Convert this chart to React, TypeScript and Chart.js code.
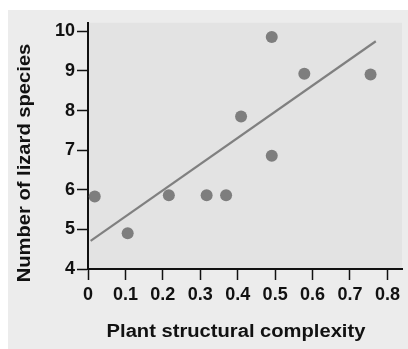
import React, { useEffect, useRef } from "react";
import { Chart, registerables } from "chart.js";

Chart.register(...registerables);

const complexity = [0.018, 0.106, 0.216, 0.317, 0.369, 0.409, 0.491, 0.491, 0.578, 0.755];
const species = [5.83, 4.9, 5.86, 5.86, 5.86, 7.85, 9.86, 6.86, 8.93, 8.91];
const fitX = [0.007, 0.769];
const fitY = [4.71, 9.75];
const xTicks = [0, 0.1, 0.2, 0.3, 0.4, 0.5, 0.6, 0.7, 0.8];
const yTicks = [4, 5, 6, 7, 8, 9, 10];
const xTitle = "Plant structural complexity";
const yTitle = "Number of lizard species";

const FONT = "'Liberation Sans', Arial, Helvetica, sans-serif";

const bgPlugin = {
  id: "bg",
  beforeDraw(chart: any) {
    const { ctx, chartArea, width, height } = chart;
    ctx.save();
    ctx.fillStyle = "#ececec";
    ctx.fillRect(0, 0, width, height);
    ctx.fillStyle = "#e3e3e3";
    ctx.fillRect(chartArea.left, chartArea.top, chartArea.right - chartArea.left, chartArea.bottom - chartArea.top);
    ctx.restore();
  },
  afterDraw(chart: any) {
    const { ctx } = chart;
    ctx.save();
    ctx.fillStyle = "#111";
    ctx.font = `bold 18px ${FONT}`;
    ctx.textAlign = "center";
    ctx.textBaseline = "middle";
    ctx.save();
    ctx.translate(228, 322);
    ctx.scale(1.12, 1);
    ctx.fillText(xTitle, 0, 0);
    ctx.restore();
    ctx.translate(17, 153);
    ctx.rotate(-Math.PI / 2);
    ctx.scale(1.12, 1);
    ctx.fillText(yTitle, 0, 0);
    ctx.restore();
  },
};

export default function App() {
  const ref = useRef<HTMLCanvasElement>(null);
  useEffect(() => {
    if (!ref.current) return;
    const chart = new Chart(ref.current, {
      type: "scatter",
      data: {
        datasets: [
          {
            type: "line",
            data: fitX.map((x, i) => ({ x, y: fitY[i] })),
            borderColor: "#808080",
            borderWidth: 2.2,
            pointRadius: 0,
            fill: false,
          } as any,
          {
            data: complexity.map((x, i) => ({ x, y: species[i] })),
            backgroundColor: "#7e7e7e",
            borderWidth: 0,
            pointRadius: 6,
          },
        ],
      },
      plugins: [bgPlugin],
      options: {
        animation: false,
        responsive: false,
        devicePixelRatio: 1,
        layout: { padding: 0 },
        plugins: { legend: { display: false }, tooltip: { enabled: false } },
        scales: {
          x: {
            type: "linear",
            min: 0,
            max: 0.839,
            afterBuildTicks: (s: any) => {
              s.ticks = xTicks.map((v) => ({ value: v }));
            },
            afterFit: (s: any) => {
              s.height = 80;
            },
            ticks: {
              callback: (v: any) => String(Math.round(Number(v) * 10) / 10),
              color: "#111",
              font: { family: FONT, size: 18, weight: "bold" },
              padding: 4,
              maxRotation: 0,
              autoSkip: false,
            },
            grid: { drawOnChartArea: false, tickLength: 11, color: "#111", tickWidth: 1.5 },
            border: { color: "#111", width: 2 },
          },
          y: {
            type: "linear",
            min: 4,
            max: 10.216,
            afterBuildTicks: (s: any) => {
              s.ticks = yTicks.map((v) => ({ value: v }));
            },
            afterFit: (s: any) => {
              s.width = 80;
            },
            ticks: {
              color: "#111",
              font: { family: FONT, size: 18, weight: "bold" },
              padding: 2,
              autoSkip: false,
            },
            grid: { drawOnChartArea: false, tickLength: 11, color: "#111", tickWidth: 1.5 },
            border: { color: "#111", width: 2 },
          },
        },
      },
    });
    return () => chart.destroy();
  }, []);
  return (
    <div style={{ position: "absolute", left: 8, top: 10, width: 400, height: 339 }}>
      <canvas ref={ref} width={400} height={339} style={{ display: "block", width: 400, height: 339 }} />
    </div>
  );
}
